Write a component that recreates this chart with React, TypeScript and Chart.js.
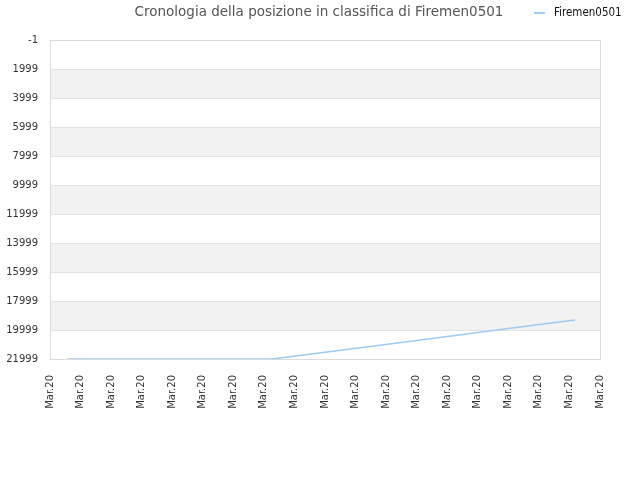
import { useEffect, useRef } from "react"
import { Chart, registerables } from "chart.js"
Chart.register(...registerables)

const TITLE = "Cronologia della posizione in classifica di Firemen0501"
const SERIES_NAME = "Firemen0501"

// x tick labels (one per grid step)
const X_LABELS = [
  "Mar.20", "Mar.20", "Mar.20", "Mar.20", "Mar.20", "Mar.20", "Mar.20",
  "Mar.20", "Mar.20", "Mar.20", "Mar.20", "Mar.20", "Mar.20", "Mar.20",
  "Mar.20", "Mar.20", "Mar.20", "Mar.20", "Mar.20",
]
const Y_TICKS = [-1, 1999, 3999, 5999, 7999, 9999, 11999, 13999, 15999, 17999, 19999, 21999]

// points (x in label steps, y = rank)
const POINT_X = [0.56, 7.26, 9.0, 12.0, 15.0, 17.18]
const POINT_Y = [21999, 21999, 21530, 20720, 19900, 19310]

const LINE_COLOR = "#9ccaf3"

const bandsAndHeader = {
  id: "bandsAndHeader",
  beforeDatasetsDraw(chart: any) {
    const { ctx, chartArea } = chart
    const y = chart.scales.y
    ctx.save()
    ctx.fillStyle = "#f2f2f2"
    for (let i = 1; i < Y_TICKS.length - 1; i += 2) {
      const a = y.getPixelForValue(Y_TICKS[i])
      const b = y.getPixelForValue(Y_TICKS[i + 1])
      ctx.fillRect(chartArea.left, a, chartArea.right - chartArea.left, b - a)
    }
    ctx.strokeStyle = "#e3e3e3"
    ctx.lineWidth = 1
    for (const v of Y_TICKS) {
      const p = Math.round(y.getPixelForValue(v)) + 0.5
      ctx.beginPath()
      ctx.moveTo(chartArea.left, p)
      ctx.lineTo(chartArea.right, p)
      ctx.stroke()
    }
    ctx.strokeStyle = "#dcdcdc"
    ctx.strokeRect(chartArea.left + 0.5, chartArea.top + 0.5, chartArea.right - chartArea.left, chartArea.bottom - chartArea.top)
    ctx.restore()
  },
  afterDraw(chart: any) {
    const { ctx } = chart
    ctx.save()
    ctx.textBaseline = "middle"
    ctx.fillStyle = "#555"
    ctx.font = "13.5px 'DejaVu Sans'"
    ctx.textAlign = "center"
    ctx.fillText(TITLE, 319, 12)
    ctx.strokeStyle = LINE_COLOR
    ctx.lineWidth = 2
    ctx.beginPath()
    ctx.moveTo(534, 13)
    ctx.lineTo(545, 13)
    ctx.stroke()
    ctx.fillStyle = "#111"
    ctx.font = "11.5px 'DejaVu Sans Condensed'"
    ctx.textAlign = "left"
    ctx.fillText(SERIES_NAME, 554, 13)
    ctx.restore()
  },
}

function RankChart() {
  const ref = useRef<HTMLCanvasElement>(null)
  useEffect(() => {
    if (!ref.current) return
    const chart = new Chart(ref.current, {
      type: "line",
      data: {
        datasets: [{
          label: SERIES_NAME,
          data: POINT_X.map((x, i) => ({ x, y: POINT_Y[i] })),
          borderColor: LINE_COLOR,
          borderWidth: 1.5,
          pointRadius: 0,
          tension: 0,
          fill: false,
        }],
      },
      options: {
        animation: false,
        responsive: true,
        maintainAspectRatio: false,
        layout: { padding: { top: 40, right: 40, left: 0, bottom: 0 } },
        plugins: { legend: { display: false }, title: { display: false }, tooltip: { enabled: false } },
        scales: {
          x: {
            type: "linear",
            min: 0,
            max: X_LABELS.length - 1,
            grid: { display: false, drawTicks: false },
            border: { display: false },
            afterBuildTicks: (s: any) => { s.ticks = X_LABELS.map((_, i) => ({ value: i })) },
            afterFit: (s: any) => { s.height = 121 },
            ticks: {
              autoSkip: false,
              minRotation: 90,
              maxRotation: 90,
              padding: 16,
              color: "#333",
              font: { family: "'DejaVu Sans'", size: 10 },
              callback: (v: string | number) => X_LABELS[Number(v)] ?? "",
            },
          },
          y: {
            reverse: true,
            min: -1,
            max: 21999,
            grid: { display: false, drawTicks: false },
            border: { display: false },
            afterBuildTicks: (s: any) => { s.ticks = Y_TICKS.map(v => ({ value: v })) },
            afterFit: (s: any) => { s.width = 50 },
            ticks: {
              padding: 12,
              color: "#333",
              font: { family: "'DejaVu Sans'", size: 10 },
              callback: (v: string | number) => String(v),
            },
          },
        },
      },
      plugins: [bandsAndHeader],
    })
    return () => chart.destroy()
  }, [])
  return <canvas ref={ref} />
}

export default function App() {
  return (
    <div style={{ position: "fixed", left: 0, top: 0, width: 640, height: 480, background: "#fff" }}>
      <RankChart />
    </div>
  )
}
